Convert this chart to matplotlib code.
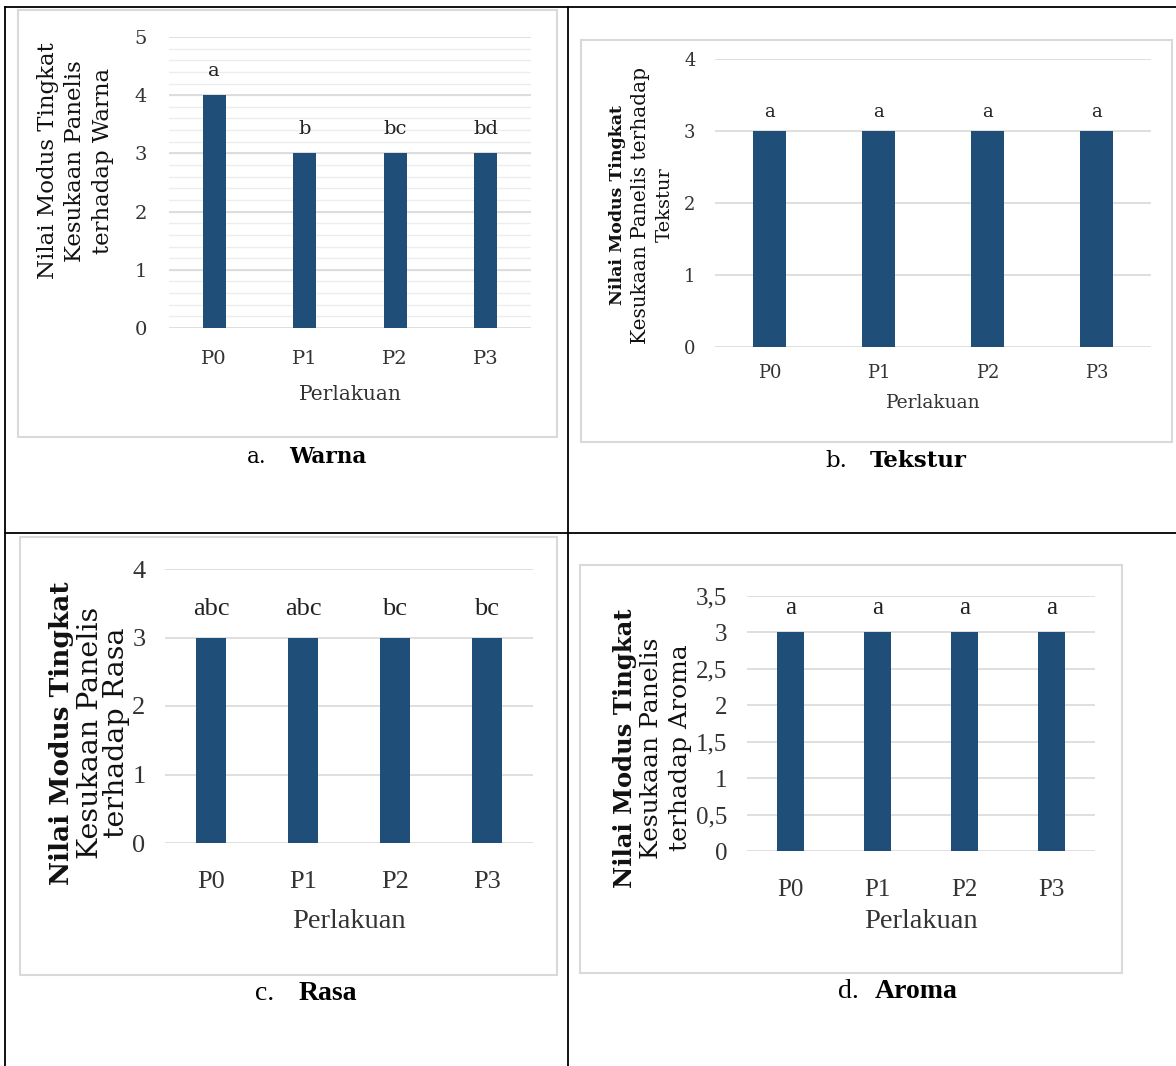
import matplotlib
matplotlib.use("Agg")
import matplotlib.pyplot as plt
from matplotlib.patches import Rectangle
from matplotlib.lines import Line2D
import numpy as np

W, H = 1176, 1066

perlakuan = ["P0", "P1", "P2", "P3"]

warna = [4, 3, 3, 3]
warna_notasi = ["a", "b", "bc", "bd"]

tekstur = [3, 3, 3, 3]
tekstur_notasi = ["a", "a", "a", "a"]

rasa = [3, 3, 3, 3]
rasa_notasi = ["abc", "abc", "bc", "bc"]

aroma = [3, 3, 3, 3]
aroma_notasi = ["a", "a", "a", "a"]

BAR = "#1F4E79"
GRID = "#D9D9D9"


def fx(x):
    return x / W


def fy(y):
    return 1 - y / H


fig = plt.figure(figsize=(W / 100, H / 100), dpi=100)
fig.patch.set_facecolor("white")

# table lines
for x0, y0, x1, y1 in [(5, 7, 1176, 7), (5, 533, 1176, 533),
                       (5, 7, 5, 1066), (568, 7, 568, 1066)]:
    fig.add_artist(Line2D([fx(x0), fx(x1)], [fy(y0), fy(y1)],
                          color="black", lw=1.3, transform=fig.transFigure))


def panel(box, ax_px, vals, notes, ylim, yticks, yticklabels, note_off,
          bar_w, ylab, ylab_x, ylab_y, ylab_fs, bold_first, font,
          tick_fs, xtick_pad, ytick_pad, xlab_y, xlab_fs,
          cap, cap_y, cap_x, cap_fs, minor=None):
    bx0, by0, bx1, by1 = box
    fig.add_artist(Rectangle((fx(bx0), fy(by1)), fx(bx1) - fx(bx0), fy(by0) - fy(by1),
                             transform=fig.transFigure, fill=False,
                             edgecolor=GRID, lw=1.5))
    x0, ytop, x1, ybot = ax_px
    ax = fig.add_axes([fx(x0), fy(ybot), fx(x1) - fx(x0), fy(ytop) - fy(ybot)])
    ax.set_facecolor("none")
    pos = np.arange(len(perlakuan))
    if minor is not None:
        for v in minor:
            ax.axhline(v, color="#EDEDED", lw=1, zorder=0)
    for v in yticks:
        ax.axhline(v, color=GRID, lw=1.2, zorder=1)
    ax.bar(pos, vals, width=bar_w, color=BAR, zorder=2)
    for p, v, n in zip(pos, vals, notes):
        ax.text(p, v + note_off, n, ha="center", va="center",
                fontsize=tick_fs, family=font, color="#222222")
    ax.set_xlim(-0.5, len(perlakuan) - 0.5)
    ax.set_ylim(*ylim)
    ax.set_xticks(pos)
    ax.set_xticklabels(perlakuan, family=font, fontsize=tick_fs, color="#333333")
    ax.set_yticks(yticks)
    ax.set_yticklabels(yticklabels, family=font, fontsize=tick_fs, color="#333333")
    ax.tick_params(length=0)
    ax.tick_params(axis="x", pad=xtick_pad)
    ax.tick_params(axis="y", pad=ytick_pad)
    for s in ax.spines.values():
        s.set_visible(False)
    ax.set_xlabel("Perlakuan", family=font, fontsize=xlab_fs, color="#333333")
    ax.xaxis.set_label_coords(fx((x0 + x1) / 2), fy(xlab_y), transform=fig.transFigure)
    ax.xaxis.label.set_va("center")
    for i, (line, lx) in enumerate(zip(ylab, ylab_x)):
        wt = "bold" if (bold_first and i == 0) else "normal"
        fig.text(fx(lx), fy(ylab_y), line, rotation=90, ha="center", va="center",
                 family="DejaVu Serif", fontsize=ylab_fs[i], weight=wt, color="#111111")
    fig.text(fx(cap_x[0]), fy(cap_y), cap[0], ha="center", va="center",
             family=font, fontsize=cap_fs, color="black")
    fig.text(fx(cap_x[1]), fy(cap_y), cap[1], ha="center", va="center",
             family=font, fontsize=cap_fs, weight="bold", color="black")
    return ax


# a. Warna
panel(box=(18, 10, 557, 437), ax_px=(169, 37, 531, 328),
      vals=warna, notes=warna_notasi, ylim=(0, 5),
      yticks=[0, 1, 2, 3, 4, 5], yticklabels=["0", "1", "2", "3", "4", "5"],
      note_off=0.42, bar_w=0.25,
      ylab=["Nilai Modus Tingkat", "Kesukaan Panelis", "terhadap Warna"],
      ylab_x=[48, 75, 103], ylab_y=161, ylab_fs=[16.5, 16.5, 16.5], bold_first=False,
      font="DejaVu Serif", tick_fs=14, xtick_pad=16, ytick_pad=16,
      xlab_y=395, xlab_fs=14.5, cap=["a.", "Warna"], cap_y=457,
      cap_x=[257, 328], cap_fs=15.5,
      minor=np.arange(0.2, 5, 0.2))

# b. Tekstur
panel(box=(581, 40, 1172, 442), ax_px=(715, 59, 1151, 347),
      vals=tekstur, notes=tekstur_notasi, ylim=(0, 4),
      yticks=[0, 1, 2, 3, 4], yticklabels=["0", "1", "2", "3", "4"],
      note_off=0.26, bar_w=0.30,
      ylab=["Nilai Modus Tingkat", "Kesukaan Panelis terhadap", "Tekstur"],
      ylab_x=[617, 641, 665], ylab_y=205, ylab_fs=[12.5, 14.5, 14], bold_first=True,
      font="DejaVu Serif", tick_fs=13, xtick_pad=12, ytick_pad=14,
      xlab_y=403, xlab_fs=13.5, cap=["b.", "Tekstur"], cap_y=461,
      cap_x=[836, 918], cap_fs=16.5)

# c. Rasa
panel(box=(20, 537, 557, 975), ax_px=(165, 569, 533, 843),
      vals=rasa, notes=rasa_notasi, ylim=(0, 4),
      yticks=[0, 1, 2, 3, 4], yticklabels=["0", "1", "2", "3", "4"],
      note_off=0.42, bar_w=0.32,
      ylab=["Nilai Modus Tingkat", "Kesukaan Panelis", "terhadap Rasa"],
      ylab_x=[62, 90, 117], ylab_y=733, ylab_fs=[19, 20.5, 20.5], bold_first=True,
      font="Liberation Serif", tick_fs=19, xtick_pad=20, ytick_pad=14,
      xlab_y=921, xlab_fs=20.5, cap=["c.", "Rasa"], cap_y=994,
      cap_x=[265, 328], cap_fs=20)

# d. Aroma
panel(box=(580, 565, 1122, 973), ax_px=(747, 596, 1095, 851),
      vals=aroma, notes=aroma_notasi, ylim=(0, 3.5),
      yticks=[0, 0.5, 1, 1.5, 2, 2.5, 3, 3.5],
      yticklabels=["0", "0,5", "1", "1,5", "2", "2,5", "3", "3,5"],
      note_off=0.33, bar_w=0.31,
      ylab=["Nilai Modus Tingkat", "Kesukaan Panelis", "terhadap Aroma"],
      ylab_x=[625, 652, 680], ylab_y=748, ylab_fs=[17.5, 18, 18], bold_first=True,
      font="Liberation Serif", tick_fs=18, xtick_pad=20, ytick_pad=14,
      xlab_y=922, xlab_fs=20.5, cap=["d.", "Aroma"], cap_y=991,
      cap_x=[848, 916], cap_fs=20)

fig.savefig("out.png", dpi=100)
